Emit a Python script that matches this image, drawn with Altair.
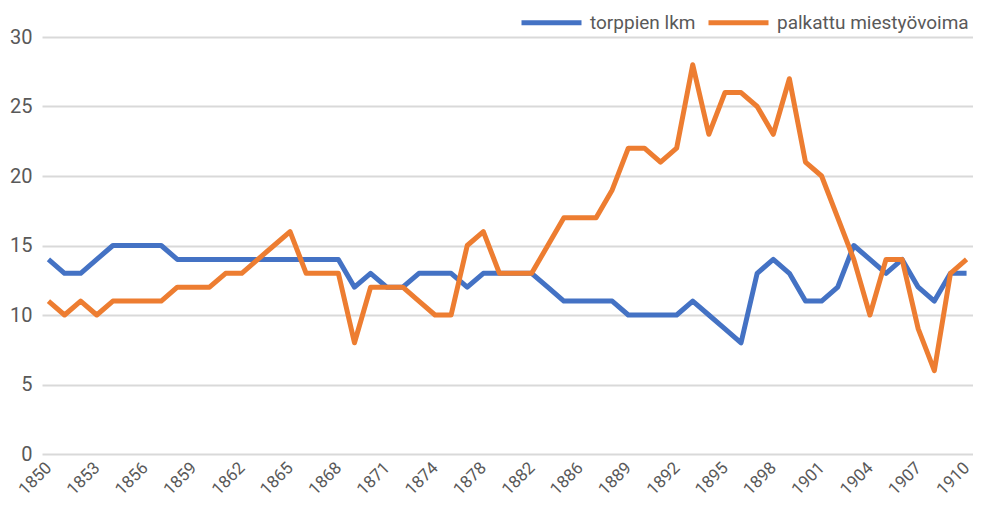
import altair as alt
import pandas as pd

years = [str(y) for y in range(1850, 1875)] + ["1876", "1877", "1878", "1880", "1881", "1882", "1884", "1885"] + [str(y) for y in range(1886, 1911)]
torpat = [14, 13, 13, 14, 15, 15, 15, 15, 14, 14, 14, 14, 14, 14, 14, 14, 14, 14, 14, 12,
          13, 12, 12, 13, 13, 13, 12, 13, 13, 13, 13, 12, 11, 11, 11, 11, 10, 10, 10, 10,
          11, 10, 9, 8, 13, 14, 13, 11, 11, 12, 15, 14, 13, 14, 12, 11, 13, 13]
palkattu = [11, 10, 11, 10, 11, 11, 11, 11, 12, 12, 12, 13, 13, 14, 15, 16, 13, 13, 13, 8,
            12, 12, 12, 11, 10, 10, 15, 16, 13, 13, 13, 15, 17, 17, 17, 19, 22, 22, 21, 22,
            28, 23, 26, 26, 25, 23, 27, 21, 20, 17, 14, 10, 14, 14, 9, 6, 13, 14]
series = ["torppien lkm", "palkattu miestyövoima"]
colors = ["#4472C4", "#ED7D31"]
label_years = ["1850", "1853", "1856", "1859", "1862", "1865", "1868", "1871", "1874", "1878",
               "1882", "1886", "1889", "1892", "1895", "1898", "1901", "1904", "1907", "1910"]

rows = []
for s, vals in zip(series, [torpat, palkattu]):
    for i, (y, v) in enumerate(zip(years, vals)):
        rows.append({"vuosi": y, "arvo": v, "sarja": s, "ord": series.index(s)})
df = pd.DataFrame(rows)

font = "Roboto"
grey = "#595959"

chart = alt.Chart(df).mark_line(strokeWidth=5, strokeJoin="round").encode(
    x=alt.X("vuosi:O", sort=years, title=None,
            scale=alt.Scale(type="point", padding=0.4),
            axis=alt.Axis(values=label_years, labelAngle=-45, labelAlign="right",
                          labelBaseline="middle", labelFontSize=17, labelColor=grey,
                          labelFont=font, ticks=False, domain=False, grid=False,
                          labelPadding=11)),
    y=alt.Y("arvo:Q", title=None,
            scale=alt.Scale(domain=[0, 30], nice=False),
            axis=alt.Axis(values=[0, 5, 10, 15, 20, 25, 30], labelFontSize=20, labelColor=grey,
                          labelFont=font, ticks=False, domain=False, gridColor="#d9d9d9",
                          gridWidth=2, labelPadding=10)),
    color=alt.Color("sarja:N", scale=alt.Scale(domain=series, range=colors),
                    legend=alt.Legend(title=None, orient="none", direction="horizontal",
                                      legendX=477, legendY=-47, symbolType="stroke",
                                      symbolSize=3600, symbolStrokeWidth=5,
                                      labelFontSize=19, labelColor=grey, labelFont=font,
                                      labelLimit=0, columnPadding=2, labelOffset=6)),
    order=alt.Order("ord:Q"),
    detail="sarja:N",
).properties(
    width=931, height=417,
    autosize=alt.AutoSizeParams(type="none"),
    padding={"left": 34, "top": 29, "right": 0, "bottom": 45},
).configure_view(stroke=None)

chart.save("out.html", embed_options={"renderer": "svg", "actions": False})
